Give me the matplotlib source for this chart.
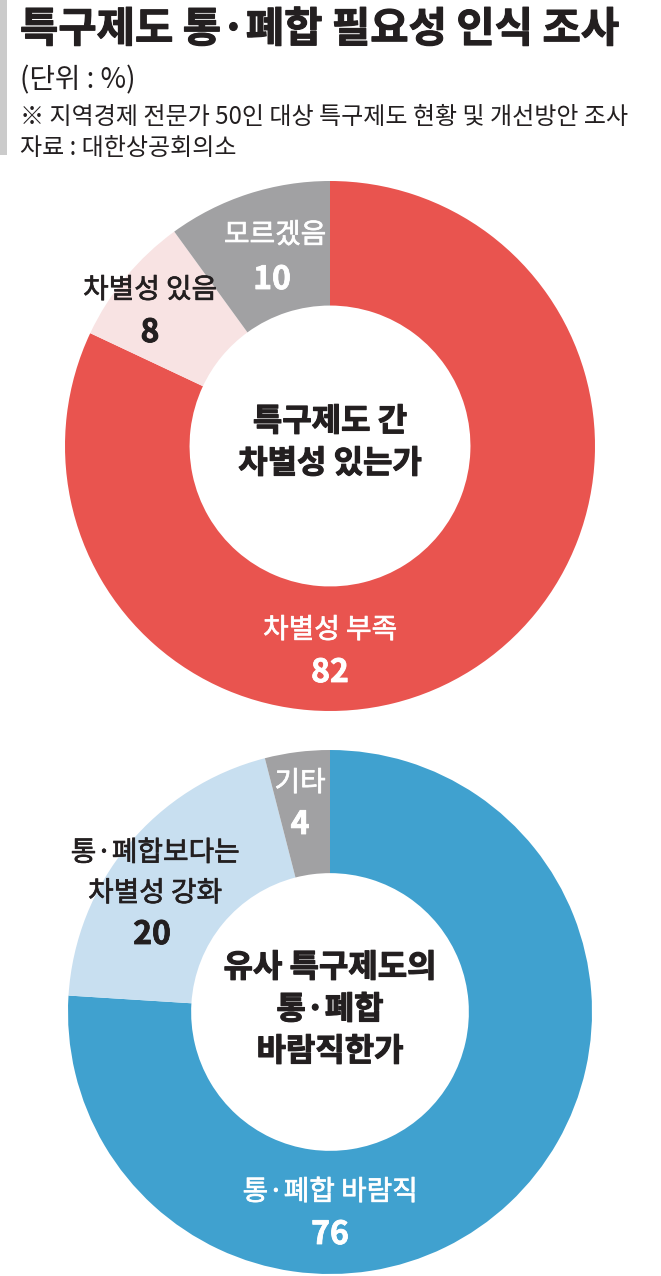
import matplotlib
matplotlib.use('Agg')
import matplotlib.pyplot as plt
import matplotlib.patheffects as pe

plt.rcParams['font.family'] = ['Noto Sans CJK KR', 'DejaVu Sans']

# data
title = '특구제도 통·폐합 필요성 인식 조사'
unit = '(단위 : %)'
note = '※ 지역경제 전문가 50인 대상 특구제도 현황 및 개선방안 조사'
source = '자료 : 대한상공회의소'

q1_labels = ['차별성 부족', '차별성 있음', '모르겠음']
q1_values = [82, 8, 10]
q1_center = '특구제도 간\n차별성 있는가'

q2_labels = ['통·폐합 바람직', '통·폐합보다는\n차별성 강화', '기타']
q2_values = [76, 20, 4]
q2_center = '유사 특구제도의\n통·폐합\n바람직한가'

W, H = 661, 1276
DARK = '#231f20'

fig = plt.figure(figsize=(W / 100, H / 100), dpi=100)
ax = fig.add_axes([0, 0, 1, 1])


def Y(py):
    # pixel row from top -> data y
    return H - py


def heavy(color, w):
    return [pe.withStroke(linewidth=w, foreground=color)]


def donut(cx, cy, r, values, colors):
    ax.pie(values, colors=colors, startangle=90, counterclock=False,
           center=(cx, Y(cy)), radius=r,
           wedgeprops=dict(width=r * 0.47, linewidth=0))


def label(x, y, s, color, **kw):
    # slice name, a bit heavier than regular
    ax.text(x, Y(y), s, fontsize=20, color=color, ha='center', va='center',
            path_effects=heavy(color, 0.5), **kw)


def number(x, y, v, color):
    ax.text(x, Y(y), str(v), fontsize=23, fontweight='bold', color=color,
            ha='center', va='center', path_effects=heavy(color, 0.6))


# header
ax.add_patch(plt.Rectangle((0, Y(155)), 7, 155, color='#cbcbcb', lw=0))
ax.text(20, Y(30), title, fontsize=30, fontweight='bold', color=DARK, va='center', ha='left',
        path_effects=heavy(DARK, 0.8))
ax.text(20, Y(80), unit, fontsize=20, color=DARK, va='center', ha='left')
ax.text(20, Y(117), note, fontsize=17.3, color=DARK, va='center', ha='left')
ax.text(20, Y(148), source, fontsize=17.3, color=DARK, va='center', ha='left')

# first donut
donut(330, 446, 265, q1_values, ['#e9544f', '#f8e3e3', '#a1a1a3'])
ax.text(330, Y(443), q1_center, fontsize=23, fontweight='bold', color=DARK,
        ha='center', va='center', linespacing=1.4, path_effects=heavy(DARK, 0.8))
label(330, 630, q1_labels[0], 'white')
number(330, 673, q1_values[0], 'white')
label(150, 290, q1_labels[1], DARK)
number(150, 333, q1_values[1], DARK)
label(275, 235, q1_labels[2], 'white')
number(272, 280, q1_values[2], 'white')

# second donut
donut(330, 1012, 262, q2_values, ['#40a1cf', '#c8dff0', '#a1a1a3'])
ax.text(330, Y(1010), q2_center, fontsize=23, fontweight='bold', color=DARK,
        ha='center', va='center', linespacing=1.4, path_effects=heavy(DARK, 0.8))
label(330, 1192, q2_labels[0], 'white')
number(330, 1235, q2_values[0], 'white')
label(155, 873, q2_labels[1], DARK, linespacing=1.45)
number(152, 935, q2_values[1], DARK)
label(300, 783, q2_labels[2], 'white')
number(300, 825, q2_values[2], 'white')

ax.set_xlim(0, W)
ax.set_ylim(0, H)
ax.set_aspect('equal')
ax.axis('off')

fig.savefig('out.png', dpi=100, facecolor='white')
